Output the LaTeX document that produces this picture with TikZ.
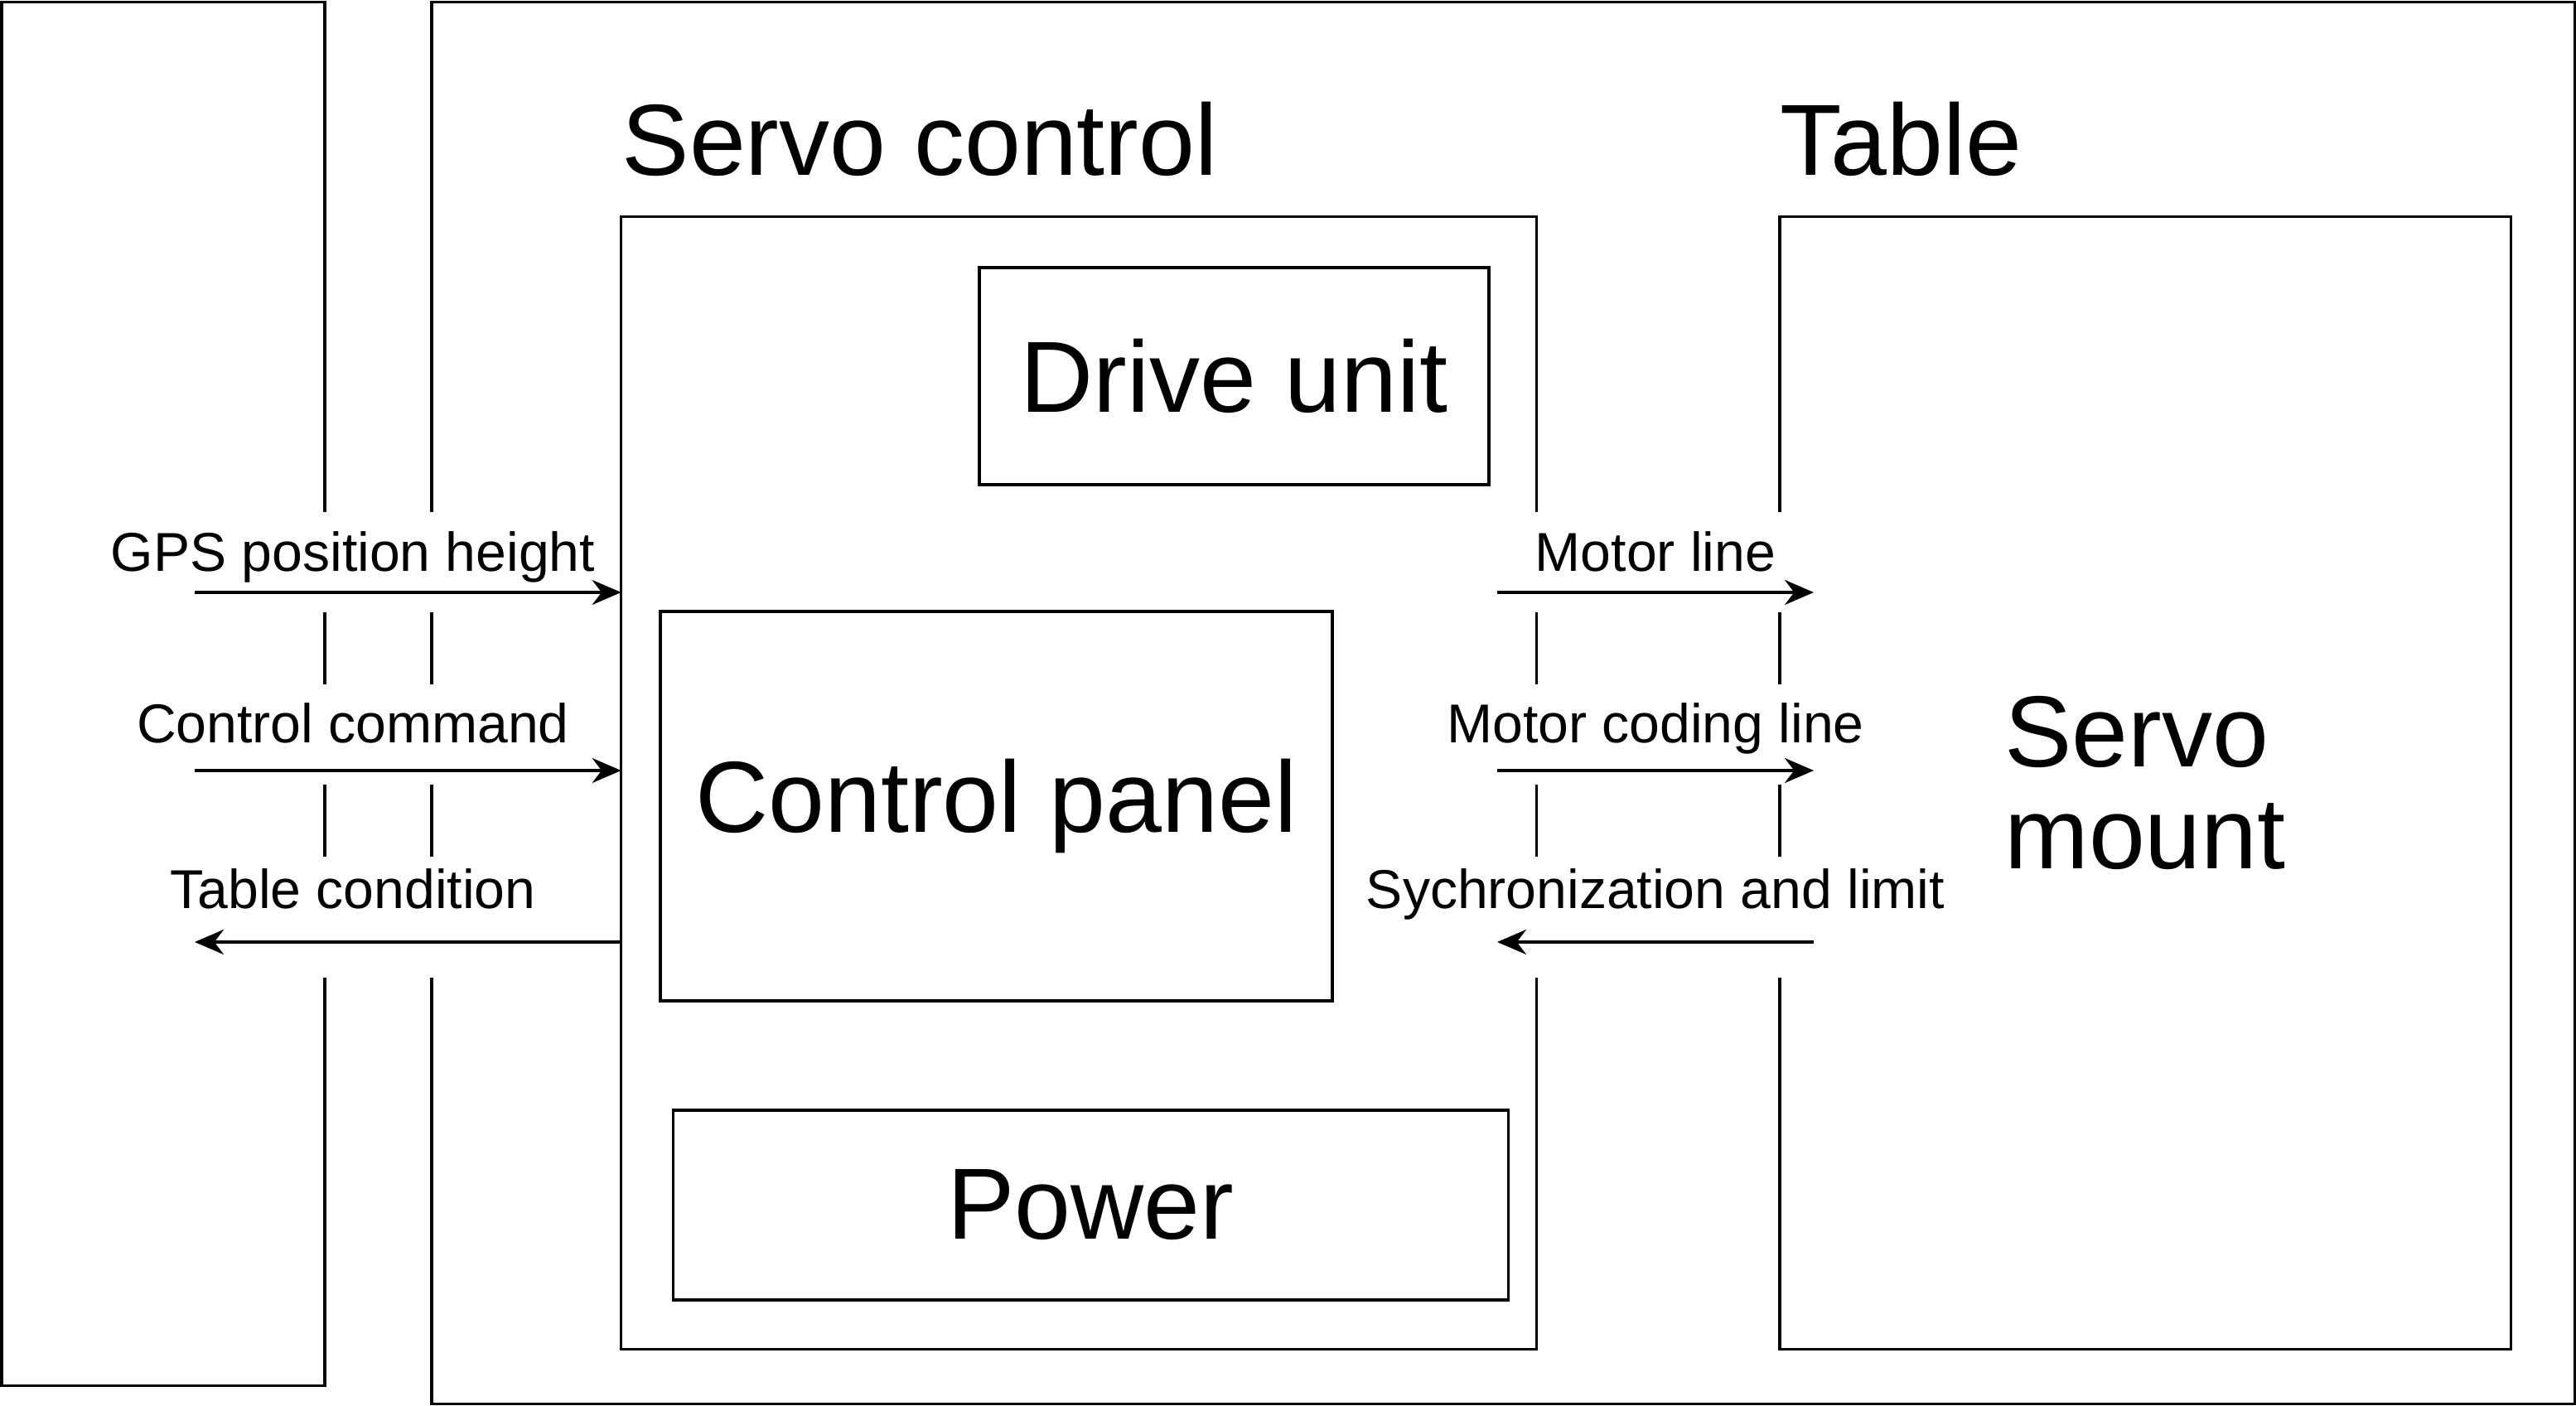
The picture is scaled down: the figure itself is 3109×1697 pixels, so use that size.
\documentclass[tikz,border=0pt]{standalone}
\usepackage{fontspec}
\setmainfont{Liberation Sans}
\usetikzlibrary{arrows.meta}
\begin{document}
\begin{tikzpicture}[x=0.01cm,y=-0.01cm,
  box/.style={draw, line width=1pt, inner sep=0pt, outer sep=0pt, rectangle},
  big/.style={font=\fontsize{34.7}{35}\selectfont},
  lbl/.style={font=\fontsize{18.8}{22}\selectfont, anchor=base, inner sep=0pt},
  ttl/.style={font=\fontsize{34.7}{35}\selectfont, anchor=base west, inner sep=0pt},
  arr/.style={line width=1pt, -{Stealth[length=0.35cm,width=0.30cm]}},
  gapmask/.style={fill=white, draw=none}]
\useasboundingbox (0,0) rectangle (3109,1697);
% outer frames
\node[box, minimum width=3.90cm, minimum height=16.69cm] (left) at (197,837.5) {};
\node[box, minimum width=25.85cm, minimum height=16.91cm] (outer) at (1814.5,848.5) {};
\node[box, minimum width=11.04cm, minimum height=13.66cm] (sc) at (1302,945) {};
\node[box, big, minimum width=8.82cm, minimum height=13.66cm, align=left] (sm) at (2589,945) {Servo\\mount};
% gaps in the frame lines
\fill[gapmask] (300,618) rectangle (700,739);
\fill[gapmask] (300,826) rectangle (700,947);
\fill[gapmask] (300,1034) rectangle (700,1180);
\fill[gapmask] (1830,618) rectangle (2180,739);
\fill[gapmask] (1830,826) rectangle (2180,947);
\fill[gapmask] (1830,1034) rectangle (2180,1180);
% inner boxes
\node[box, big, minimum width=6.15cm, minimum height=2.62cm] (drive) at (1489.5,454) {Drive unit};
\node[box, big, minimum width=8.11cm, minimum height=4.70cm] (panel) at (1202.5,973) {Control panel};
\node[box, big, minimum width=10.07cm, minimum height=2.29cm] (power) at (1316.5,1454.5) {Power};
% titles
\node[ttl] (tsc) at (750,212) {Servo control};
\node[ttl] (ttab) at (2148,212) {Table};
% left arrows
\coordinate (a1) at (235,715);
\coordinate (a2) at (235,930);
\coordinate (a3) at (235,1137);
\draw[arr] (a1) -- (a1 -| sc.west);
\draw[arr] (a2) -- (a2 -| sc.west);
\draw[arr] (a3 -| sc.west) -- (a3);
\node[lbl] (l1) at (426,689) {GPS position height};
\node[lbl] (l2) at (426,896) {Control command};
\node[lbl] (l3) at (426,1096) {Table condition};
% right arrows
\coordinate (b1s) at (1807,715);
\coordinate (b1e) at (2189,715);
\coordinate (b2s) at (1807,930);
\coordinate (b2e) at (2189,930);
\coordinate (b3s) at (1807,1137);
\coordinate (b3e) at (2189,1137);
\draw[arr] (b1s) -- (b1e);
\draw[arr] (b2s) -- (b2e);
\draw[arr] (b3e) -- (b3s);
\node[lbl] (r1) at (1998,689) {Motor line};
\node[lbl] (r2) at (1998,896) {Motor coding line};
\node[lbl] (r3) at (1998,1096) {Sychronization and limit};
\end{tikzpicture}
\end{document}
